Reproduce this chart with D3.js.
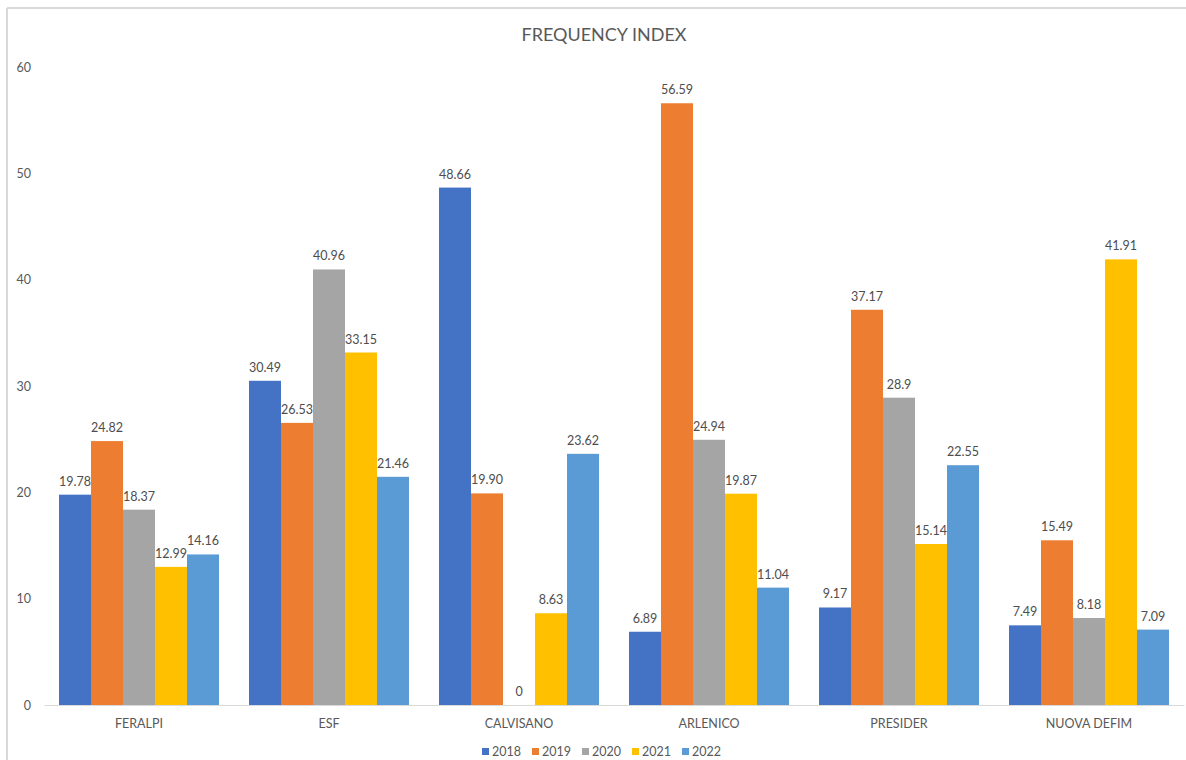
<!DOCTYPE html>
<html>
<head>
<meta charset="utf-8">
<script src="https://cdn.jsdelivr.net/npm/d3@7"></script>
<style>
  html, body { margin: 0; padding: 0; background: #fff; }
  svg { display: block; font-family: Lato, "Open Sans", sans-serif; }
</style>
</head>
<body>
<svg id="chart" width="1186" height="760"></svg>
<script>
const categories = ["FERALPI", "ESF", "CALVISANO", "ARLENICO", "PRESIDER", "NUOVA DEFIM"];
const seriesNames = ["2018", "2019", "2020", "2021", "2022"];
const v2018 = [19.78, 30.49, 48.66, 6.89, 9.17, 7.49];
const v2019 = [24.82, 26.53, 19.90, 56.59, 37.17, 15.49];
const v2020 = [18.37, 40.96, 0, 24.94, 28.9, 8.18];
const v2021 = [12.99, 33.15, 8.63, 19.87, 15.14, 41.91];
const v2022 = [14.16, 21.46, 23.62, 11.04, 22.55, 7.09];
const l2018 = ["19.78", "30.49", "48.66", "6.89", "9.17", "7.49"];
const l2019 = ["24.82", "26.53", "19.90", "56.59", "37.17", "15.49"];
const l2020 = ["18.37", "40.96", "0", "24.94", "28.9", "8.18"];
const l2021 = ["12.99", "33.15", "8.63", "19.87", "15.14", "41.91"];
const l2022 = ["14.16", "21.46", "23.62", "11.04", "22.55", "7.09"];
const yTicks = [0, 10, 20, 30, 40, 50, 60];
const colors = ["#4472C4", "#ED7D31", "#A5A5A5", "#FFC000", "#5B9BD5"];

const seriesValues = [v2018, v2019, v2020, v2021, v2022];
const seriesLabels = [l2018, l2019, l2020, l2021, l2022];

const svg = d3.select("#chart");
const textColor = "#595959";

// outer border (top and left visible)
svg.append("line").attr("x1", 7).attr("x2", 1186).attr("y1", 8).attr("y2", 8)
  .attr("stroke", "#d9d9d9").attr("stroke-width", 2);
svg.append("line").attr("x1", 7).attr("x2", 7).attr("y1", 8).attr("y2", 760)
  .attr("stroke", "#d9d9d9").attr("stroke-width", 2);

const x0 = d3.scaleBand().domain(categories).range([44, 1184]).paddingInner(0).paddingOuter(0);
const groupPad = 15;
const x1 = d3.scaleBand().domain(seriesNames).range([groupPad, x0.bandwidth() - groupPad]);
const y = d3.scaleLinear().domain([0, 60]).range([705, 67]);

// title
svg.append("text").attr("x", 604).attr("y", 41).attr("text-anchor", "middle")
  .attr("font-size", 18).attr("fill", textColor).text("FREQUENCY INDEX");

// y axis labels
const yAxis = d3.axisLeft(y).tickValues(yTicks).tickSize(0).tickPadding(0).tickFormat(d3.format("d"));
const yg = svg.append("g").attr("transform", "translate(31,0)").call(yAxis);
yg.select(".domain").remove();
yg.selectAll("text").attr("font-size", 12.5).attr("fill", textColor).attr("font-family", "Lato, sans-serif");

// x axis
const xAxis = d3.axisBottom(x0).tickSize(0).tickPadding(14);
const xg = svg.append("g").attr("transform", "translate(0,705)").call(xAxis);
xg.select(".domain").attr("stroke", "#d9d9d9").attr("stroke-width", 1.2);
xg.selectAll("text").attr("font-size", 12.5).attr("fill", textColor).attr("font-family", "Lato, sans-serif");

// bars
const rows = categories.map((c, i) => ({
  cat: c,
  items: seriesNames.map((s, j) => ({ s, j, v: seriesValues[j][i], lab: seriesLabels[j][i] }))
}));

const groups = svg.append("g").selectAll("g").data(rows).join("g")
  .attr("transform", d => `translate(${x0(d.cat)},0)`);

groups.selectAll("rect").data(d => d.items).join("rect")
  .attr("x", d => x1(d.s))
  .attr("width", x1.bandwidth())
  .attr("y", d => y(d.v))
  .attr("height", d => y(0) - y(d.v))
  .attr("fill", d => colors[d.j]);

groups.selectAll("text.lab").data(d => d.items).join("text")
  .attr("class", "lab")
  .attr("x", d => x1(d.s) + x1.bandwidth() / 2)
  .attr("y", d => y(d.v) - 9)
  .attr("text-anchor", "middle")
  .attr("font-size", 12.5)
  .attr("fill", "#4d4d4d")
  .text(d => d.lab);

// legend
const legend = svg.append("g").selectAll("g").data(seriesNames).join("g")
  .attr("transform", (d, i) => `translate(${482 + i * 50},752)`);
legend.append("rect").attr("x", 0).attr("y", -4).attr("width", 7).attr("height", 7)
  .attr("fill", (d, i) => colors[i]);
legend.append("text").attr("x", 10).attr("y", 0).attr("dy", "0.35em")
  .attr("font-size", 12.5).attr("fill", textColor).text(d => d);
</script>
</body>
</html>
